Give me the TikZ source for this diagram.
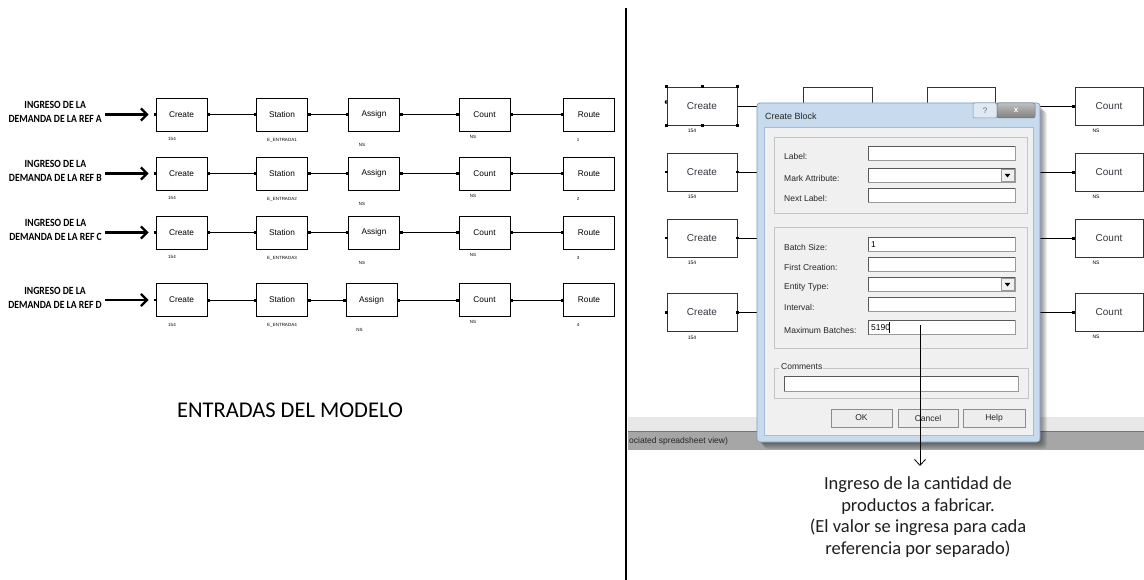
\documentclass[tikz,border=0pt]{standalone}
\usepackage{fontspec}
\setmainfont{Carlito}
\newfontfamily\arialf{Liberation Sans}
\usetikzlibrary{arrows.meta,calc}
\definecolor{txtgray}{HTML}{35363F}
\definecolor{dlgframe}{HTML}{C8DAEE}
\definecolor{dlgborder}{HTML}{7E9DC2}
\definecolor{dlgclient}{HTML}{F0F0F0}
\definecolor{etch}{HTML}{C4C4C4}
\definecolor{fieldbd}{HTML}{9A9A9A}
\definecolor{statlight}{HTML}{E8E8E8}
\definecolor{statdark}{HTML}{A6A6A6}
\begin{document}
\begin{tikzpicture}[x=1pt,y=-1pt,
  lblk/.style={draw, line width=0.7pt, minimum width=51pt, minimum height=33pt, inner sep=0pt, font=\arialf\fontsize{8.3}{10}\selectfont},
  rblk/.style={draw=black!80, line width=0.7pt, minimum width=70pt, minimum height=38pt, inner sep=0pt, text=txtgray, font=\arialf\fontsize{10}{12}\selectfont},
  tinylbl/.style={inner sep=0pt, font=\arialf\fontsize{4.5}{5}\selectfont},
  conn/.style={line width=0.6pt, {Square[length=2.4pt,width=2.4pt]}-{Square[length=2.4pt,width=2.4pt]}},
  connend/.style={line width=0.6pt, -{Square[length=2.4pt,width=2.4pt]}},
  bigarrow/.style={line width=2.4pt, -{Straight Barb[length=6pt,width=12pt]}},
  intxt/.style={inner sep=0pt, align=center, font=\bfseries\fontsize{11}{14}\selectfont},
  dlglbl/.style={inner sep=0pt, anchor=west, text=black!85, font=\arialf\fontsize{8.5}{10}\selectfont},
  fld/.style={draw=fieldbd, fill=white, line width=0.6pt},
  btn/.style={draw=black!45, fill=black!7, line width=0.6pt, minimum height=18pt, inner sep=0pt, text=black!85, font=\arialf\fontsize{8.5}{10}\selectfont},
  handle/.style={fill=black, minimum size=3pt, inner sep=0pt}
]
\useasboundingbox (0,0) rectangle (1144,580);
\fill[white] (0,0) rectangle (1144,580);

% ---------------- left half ----------------
\foreach \i/\yc/\L/\ax in {1/114.5/A/374, 2/173.5/B/374, 3/232.5/C/374, 4/300/D/371.5}{
  \node[lblk] (cr\i) at (181.5,\yc) {Create};
  \node[lblk] (st\i) at (282,\yc) {Station};
  \node[lblk] (as\i) at (\ax,\yc) {Assign};
  \node[lblk] (co\i) at (484.5,\yc) {Count};
  \node[lblk] (ro\i) at (589,\yc) {Route};
  \draw[conn] (cr\i.east) -- (st\i.west);
  \draw[conn] (st\i.east) -- (as\i.west);
  \draw[conn] (as\i.east) -- (co\i.west);
  \draw[conn] (co\i.east) -- (ro\i.west);
  \fill (cr\i.west) ++(-1.2,-1.2) rectangle ++(2.4,2.4);
  \node[tinylbl] (cl\i) at (172,\yc+24.5) {154};
  \node[tinylbl] (sl\i) at (282,\yc+25.5) {E\_ENTRADA\i};
  \node[tinylbl] (al\i) at (\ax-12,\yc+30) {NS};
  \node[tinylbl] (kl\i) at (473,\yc+22) {NS};
  \node[tinylbl] (rl\i) at (578,\yc+25) {\i};
  \node[intxt, anchor=east] (tx\i) at (102,\yc-2.5) {\scalebox{0.88}[1]{INGRESO DE LA}\\\scalebox{0.88}[1]{DEMANDA DE LA REF \L}};
  \coordinate (ia\i) at (105,\yc);
  \draw[bigarrow, shorten >=7pt] (ia\i) -- (cr\i.west);
}
\node[inner sep=0pt, font=\fontsize{22.5}{26}\selectfont] (titl) at (290,410) {ENTRADAS DEL MODELO};

% divider
\coordinate (dvt) at (626,8);
\coordinate (dvb) at (626,580);
\draw[line width=1.3pt] (dvt) -- (dvb);

% ---------------- right half (screenshot) ----------------
% status bars
\fill[statlight] (628,417) rectangle (1144,431);
\fill[statdark] (628,431) rectangle (1144,450);
\draw[black!55, line width=0.5pt] (628,431) -- (1144,431);
\node[dlglbl, text=black!85] (stat) at (629,441) {ociated spreadsheet view)};

\foreach \j/\yc in {1/106, 2/172, 3/238, 4/312.5}{
  \node[rblk] (rc\j) at (702,\yc) {Create};
  \node[rblk, minimum width=68pt] (rk\j) at (1109,\yc) {Count};
  \node[tinylbl, font=\arialf\fontsize{5}{6}\selectfont] (rcl\j) at (692,\yc+25) {154};
  \node[tinylbl, font=\arialf\fontsize{5}{6}\selectfont] (rkl\j) at (1096,\yc+24.5) {NS};
  \coordinate (din\j) at (760,\yc);
  \coordinate (dout\j) at (1038,\yc);
  \draw[line width=0.6pt] (rc\j.east) -- (din\j);
  \draw[connend] (dout\j) -- (rk\j.west);
}
\foreach \j in {2,3,4}{
  \fill (rc\j.east) ++(-1.2,-1.2) rectangle ++(2.4,2.4);
  \fill (rc\j.west) ++(-1.2,-1.2) rectangle ++(2.4,2.4);
}
% selection handles on the first Create block
\foreach \p in {north west, north, north east, south west, south, south east}{
  \node[handle] at (rc1.\p) {};
}
\fill (rc1.west) ++(0,-2) arc (90:270:2) -- cycle;

% blocks hidden behind the dialog
\draw[black!80, line width=0.7pt] (803,104) -- (803,87) -- (872,87) -- (872,104);
\draw[black!80, line width=0.7pt] (927,104) -- (927,87) -- (995,87) -- (995,104);

% dialog shadow
\foreach \k in {1,...,7}{
  \fill[black, opacity=0.07, rounded corners=4] (757+\k,104+\k) rectangle (1040+\k,442+\k);
}
% dialog frame
\draw[draw=dlgborder, fill=dlgframe, rounded corners=3, line width=0.7pt] (757,103) rectangle (1040,442);
\node[inner sep=0pt, anchor=west, text=black!85, font=\arialf\fontsize{9}{11}\selectfont] (dtitle) at (765,116) {Create Block};
% title buttons
\draw[draw=black!45, fill=dlgframe!60!white, line width=0.5pt, rounded corners=2] (973,103) rectangle (997,118);
\node[inner sep=0pt, text=black!60, font=\arialf\fontsize{8}{9}\selectfont] (qbtn) at (985,110.5) {?};
\shade[top color=black!25, bottom color=black!50, draw=black!55, line width=0.5pt, rounded corners=2] (997,103) rectangle (1035,118);
\node[inner sep=0pt, text=white, font=\arialf\bfseries\fontsize{8}{9}\selectfont] (xbtn) at (1016,110.5) {x};
% client area
\draw[draw=dlgborder!70, fill=dlgclient, line width=0.5pt] (764,127) rectangle (1033,435);

% group boxes
\draw[etch, line width=0.8pt] (774,137) rectangle (1027,213);
\draw[etch, line width=0.8pt] (774,227) rectangle (1027,348);
\draw[etch, line width=0.8pt] (823,368) -- (1028,368) -- (1028,398) -- (774,398) -- (774,368) -- (779,368);
\node[dlglbl] (lcom) at (781,367) {Comments};

% fields
\foreach \n/\ya/\txt in {lab/146/{Label:}, mrk/168/{Mark Attribute:}, nxt/188/{Next Label:}, bat/237/{Batch Size:}, fst/257/{First Creation:}, ent/277/{Entity Type:}, itv/297/{Interval:}, max/320/{Maximum Batches:}}{
  \draw[fld] (868,\ya) rectangle (1015,\ya+14.5);
  \draw[black!65, line width=0.6pt] (868.5,\ya+14.5) -- (868.5,\ya+0.5) -- (1015,\ya+0.5);
  \node[dlglbl] (l\n) at (784,\ya+10) {\txt};
}
\foreach \ya in {168,277}{
  \draw[draw=black!40, fill=black!6, line width=0.5pt] (1001,\ya+1.5) rectangle (1014,\ya+13.5);
  \fill[black] (1004.8,\ya+6) -- (1010.2,\ya+6) -- (1007.5,\ya+9.5) -- cycle;
}
\node[dlglbl, text=black] (vbat) at (871,244.5) {1};
\node[dlglbl, text=black] (vmax) at (871,327.5) {5190};
\draw[black, line width=0.6pt] (889.5,321.5) -- (889.5,333);
% comments field
\draw[fld] (784,376) rectangle (1018,391);
\draw[black!65, line width=0.6pt] (784.5,391) -- (784.5,376.5) -- (1018,376.5);
% buttons
\node[btn, minimum width=61pt] (bok) at (861.5,418) {OK};
\node[btn, minimum width=60pt] (bcan) at (928,418) {Cancel};
\node[btn, minimum width=62pt] (bhlp) at (994,418) {Help};

% annotation arrow and text
\coordinate (aa) at (920,325);
\coordinate (ab) at (920,466);
\draw[line width=0.8pt, -{Straight Barb[length=6pt,width=11pt]}] (aa) -- (ab);
\node[inner sep=0pt, align=center, text=black!88, font=\fontsize{18.5}{21.5}\selectfont] (note) at (918,517)
  {Ingreso de la cantidad de\\productos a fabricar.\\(El valor se ingresa para cada\\referencia por separado)};
\end{tikzpicture}
\end{document}
